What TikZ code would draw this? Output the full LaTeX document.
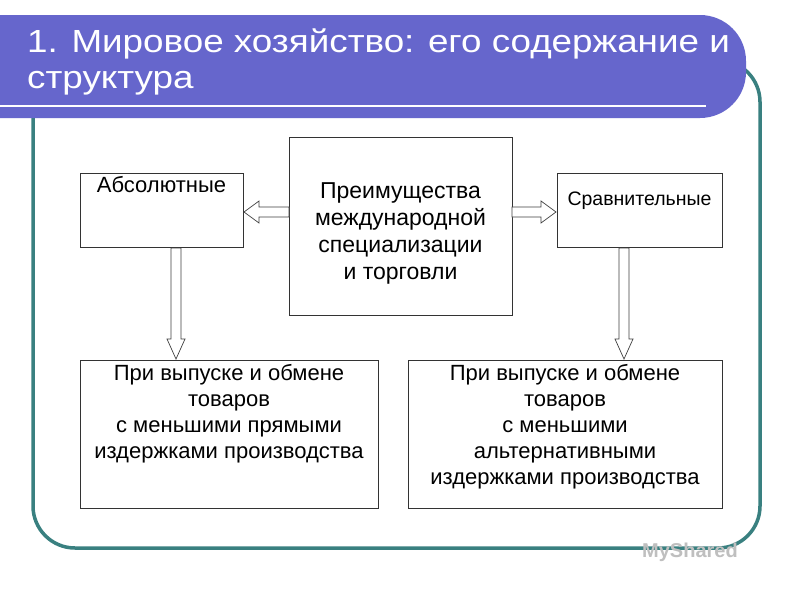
\documentclass[tikz,border=0pt]{standalone}
\usepackage{fontspec}
\setmainfont{Liberation Sans}
\newfontfamily\titlefont[FakeStretch=1.15]{Liberation Sans}
\begin{document}
\begin{tikzpicture}[x=1pt,y=-1pt,
  box/.style={draw=black!80,line width=0.8pt,fill=white},
  barrow/.style={draw=black!75,line width=0.7pt,fill=white},
  txt/.style={font=\fontsize{22}{26}\selectfont,align=center}]
\useasboundingbox (0,0) rectangle (800,600);
\fill[white] (0,0) rectangle (800,600);
% frame
\draw[line width=3.5pt,draw=teal!55!gray,rounded corners=42] (33,60) rectangle (760,548);
% header
\fill[fill={rgb,255:red,102;green,102;blue,204},rounded corners=46] (-60,15) rectangle (746,118);
\draw[white,line width=2.5pt] (0,106) -- (706,106);
\node[anchor=west,text=white,font=\titlefont\fontsize{32}{36}\selectfont,align=left,inner sep=0pt] (title) at (27,62) {1. Мировое хозяйство: его содержание и\\структура};
% boxes
\draw[box] (80,173) rectangle (243,247);
\node[txt,anchor=north,inner sep=2pt] (abs) at (161.5,174) {Абсолютные};
\draw[box] (289,137) rectangle (512,315);
\node[txt,font=\fontsize{23}{27}\selectfont] (center) at (400.5,233) {Преимущества\\международной\\специализации\\и торговли};
\draw[box] (557,173) rectangle (722,247);
\node[txt,font=\fontsize{19.5}{22}\selectfont] (cmp) at (639.5,201) {Сравнительные};
\draw[box] (80,360) rectangle (378,508);
\node[txt,anchor=north] (bl) at (229,361) {При выпуске и обмене\\товаров\\с меньшими прямыми\\издержками производства};
\draw[box] (408,360) rectangle (722,508);
\node[txt,anchor=north] (br) at (565,361) {При выпуске и обмене\\товаров\\с меньшими\\альтернативными\\издержками производства};
% block arrows
\draw[barrow] (289,207) -- (259,207) -- (259,201) -- (244,212) -- (259,223) -- (259,217) -- (289,217) -- cycle;
\draw[barrow] (512,207) -- (541,207) -- (541,201) -- (556,212) -- (541,223) -- (541,217) -- (512,217) -- cycle;
\draw[barrow] (171,248) -- (171,339) -- (167,339) -- (176,359) -- (185,339) -- (181,339) -- (181,248) -- cycle;
\draw[barrow] (619,248) -- (619,339) -- (615,339) -- (624,359) -- (633,339) -- (629,339) -- (629,248) -- cycle;
\node[text=black!25,font=\fontsize{20}{24}\selectfont\bfseries] (wm) at (690,552) {MyShared};
\end{tikzpicture}
\end{document}
